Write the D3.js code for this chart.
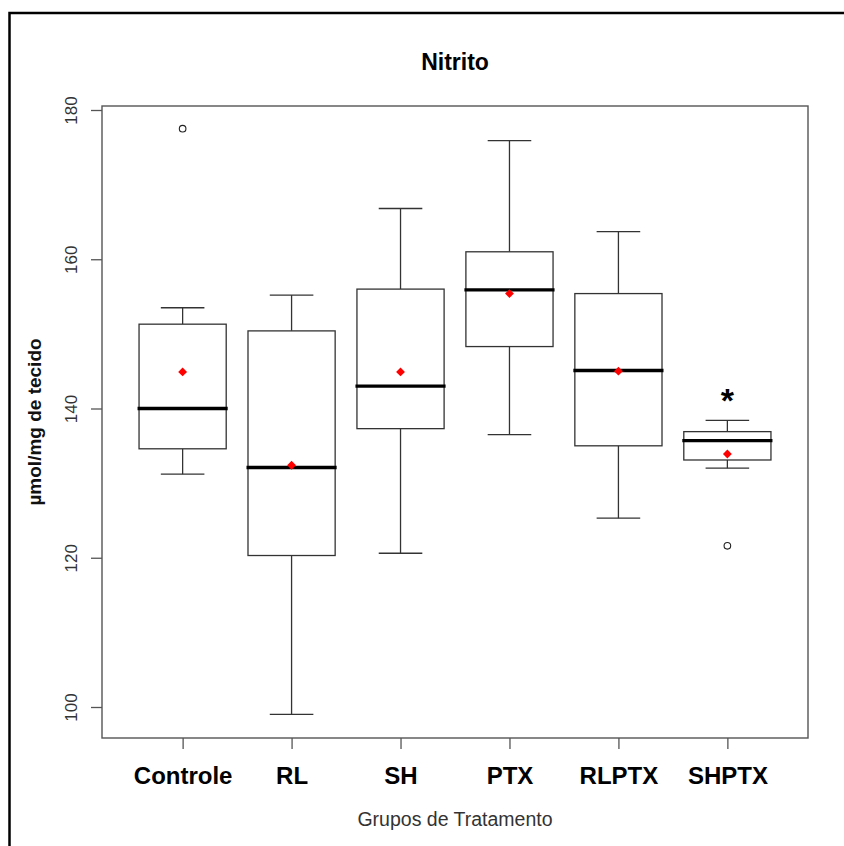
<!DOCTYPE html>
<html>
<head>
<meta charset="utf-8">
<script src="https://cdn.jsdelivr.net/npm/d3@7"></script>
<style>
  html, body { margin: 0; padding: 0; background: #fff; }
  svg { display: block; }
  text { font-family: "Liberation Sans", Arial, sans-serif; }
</style>
</head>
<body>
<svg id="chart" width="844" height="846"></svg>
<script>
// ---- Data ----
const groups        = ["Controle", "RL", "SH", "PTX", "RLPTX", "SHPTX"];
const lowerWhisker  = [131.2,  99.0, 120.6, 136.5, 125.3, 132.0];
const q1            = [134.6, 120.3, 137.3, 148.3, 135.0, 133.1];
const medians       = [140.0, 132.1, 143.0, 155.9, 145.1, 135.7];
const q3            = [151.3, 150.4, 156.0, 161.0, 155.4, 136.9];
const upperWhisker  = [153.5, 155.2, 166.8, 175.9, 163.7, 138.4];
const means         = [144.9, 132.4, 144.9, 155.4, 145.0, 133.9];
const outlierGroups = ["Controle", "SHPTX"];
const outlierValues = [177.5, 121.6];
const yTicks        = [100, 120, 140, 160, 180];
const markedGroups  = ["SHPTX"];           // groups annotated with "*"
const titleText     = "Nitrito";
const xTitle        = "Grupos de Tratamento";
const yTitle        = "µmol/mg de tecido";

// ---- Layout ----
const svg = d3.select("#chart");
const plot = { left: 102, right: 808, top: 106, bottom: 738 };

svg.append("rect").attr("x", 0).attr("y", 0).attr("width", 844).attr("height", 846).attr("fill", "#fff");
// outer figure border (runs off the right/bottom edges)
svg.append("rect").attr("x", 9.5).attr("y", 13).attr("width", 900).attr("height", 900)
  .attr("fill", "none").attr("stroke", "#000").attr("stroke-width", 2.5);

const x = d3.scalePoint().domain(groups).range([plot.left, plot.right]).padding(0.74);
const y = d3.scaleLinear().domain([100, 180]).range([707, 110]);
const boxW = x.step() * 0.8;
const capW = boxW * 0.5;

const boxes = groups.map((g, i) => ({
  g, lw: lowerWhisker[i], q1: q1[i], med: medians[i], q3: q3[i], uw: upperWhisker[i], mean: means[i]
}));

const lineCol = "#333";
const gBox = svg.append("g").attr("stroke", lineCol).attr("stroke-width", 1.3).attr("fill", "none");

const b = gBox.selectAll("g.box").data(boxes).join("g").attr("class", "box");
// whiskers
b.append("line").attr("x1", d => x(d.g)).attr("x2", d => x(d.g)).attr("y1", d => y(d.q3)).attr("y2", d => y(d.uw));
b.append("line").attr("x1", d => x(d.g)).attr("x2", d => x(d.g)).attr("y1", d => y(d.q1)).attr("y2", d => y(d.lw));
// caps
b.append("line").attr("x1", d => x(d.g) - capW / 2).attr("x2", d => x(d.g) + capW / 2).attr("y1", d => y(d.uw)).attr("y2", d => y(d.uw));
b.append("line").attr("x1", d => x(d.g) - capW / 2).attr("x2", d => x(d.g) + capW / 2).attr("y1", d => y(d.lw)).attr("y2", d => y(d.lw));
// box
b.append("rect").attr("x", d => x(d.g) - boxW / 2).attr("width", boxW)
  .attr("y", d => y(d.q3)).attr("height", d => y(d.q1) - y(d.q3)).attr("fill", "#fff");
// median
b.append("line").attr("x1", d => x(d.g) - boxW / 2 - 1.5).attr("x2", d => x(d.g) + boxW / 2 + 1.5)
  .attr("y1", d => y(d.med)).attr("y2", d => y(d.med)).attr("stroke", "#000").attr("stroke-width", 3.4);
// mean (red diamond)
b.append("path")
  .attr("d", d3.symbol().type(d3.symbolDiamond2 || d3.symbolDiamond).size(50))
  .attr("transform", d => `translate(${x(d.g)},${y(d.mean)})`)
  .attr("fill", "#ff0000").attr("stroke", "none");

// outliers
svg.append("g").selectAll("circle").data(outlierGroups.map((g, i) => ({ g, v: outlierValues[i] })))
  .join("circle").attr("cx", d => x(d.g)).attr("cy", d => y(d.v)).attr("r", 3.3)
  .attr("fill", "none").attr("stroke", "#222").attr("stroke-width", 1.1);

// asterisk annotation
svg.append("g").selectAll("text").data(markedGroups).join("text")
  .attr("x", d => x(d)).attr("y", d => y(upperWhisker[groups.indexOf(d)]) - 8)
  .attr("text-anchor", "middle").attr("font-size", 34).attr("font-weight", "bold").attr("fill", "#000")
  .text("*");

// plot frame
svg.append("rect").attr("x", plot.left).attr("y", plot.top)
  .attr("width", plot.right - plot.left).attr("height", plot.bottom - plot.top)
  .attr("fill", "none").attr("stroke", "#555").attr("stroke-width", 1.4);

// y axis
const yAxis = svg.append("g").attr("transform", `translate(${plot.left},0)`)
  .call(d3.axisLeft(y).tickValues(yTicks).tickSize(11).tickFormat(d3.format("d")));
yAxis.select(".domain").remove();
yAxis.selectAll(".tick line").attr("stroke", "#555").attr("stroke-width", 1.3);
yAxis.selectAll(".tick text")
  .attr("x", null).attr("dy", null)
  .attr("transform", "translate(-25,0) rotate(-90)")
  .attr("text-anchor", "middle").attr("font-size", 17).attr("fill", "#333")
  .attr("font-family", "'Liberation Sans', Arial, sans-serif");

// x axis
const xAxis = svg.append("g").attr("transform", `translate(0,${plot.bottom})`)
  .call(d3.axisBottom(x).tickSize(11));
xAxis.select(".domain").remove();
xAxis.selectAll(".tick line").attr("stroke", "#555").attr("stroke-width", 1.3);
xAxis.selectAll(".tick text")
  .attr("y", 46).attr("dy", null)
  .attr("font-size", 24).attr("font-weight", "bold").attr("fill", "#000")
  .attr("font-family", "'Liberation Sans', Arial, sans-serif");

// titles
svg.append("text").attr("x", (plot.left + plot.right) / 2).attr("y", 70)
  .attr("text-anchor", "middle").attr("font-size", 23).attr("font-weight", "bold").attr("fill", "#000")
  .text(titleText);
svg.append("text").attr("x", (plot.left + plot.right) / 2).attr("y", 826)
  .attr("text-anchor", "middle").attr("font-size", 19.5).attr("fill", "#333")
  .text(xTitle);
svg.append("text").attr("transform", `translate(41,${(plot.top + plot.bottom) / 2}) rotate(-90)`)
  .attr("text-anchor", "middle").attr("font-size", 19).attr("font-weight", "bold").attr("fill", "#111")
  .text(yTitle);
</script>
</body>
</html>
